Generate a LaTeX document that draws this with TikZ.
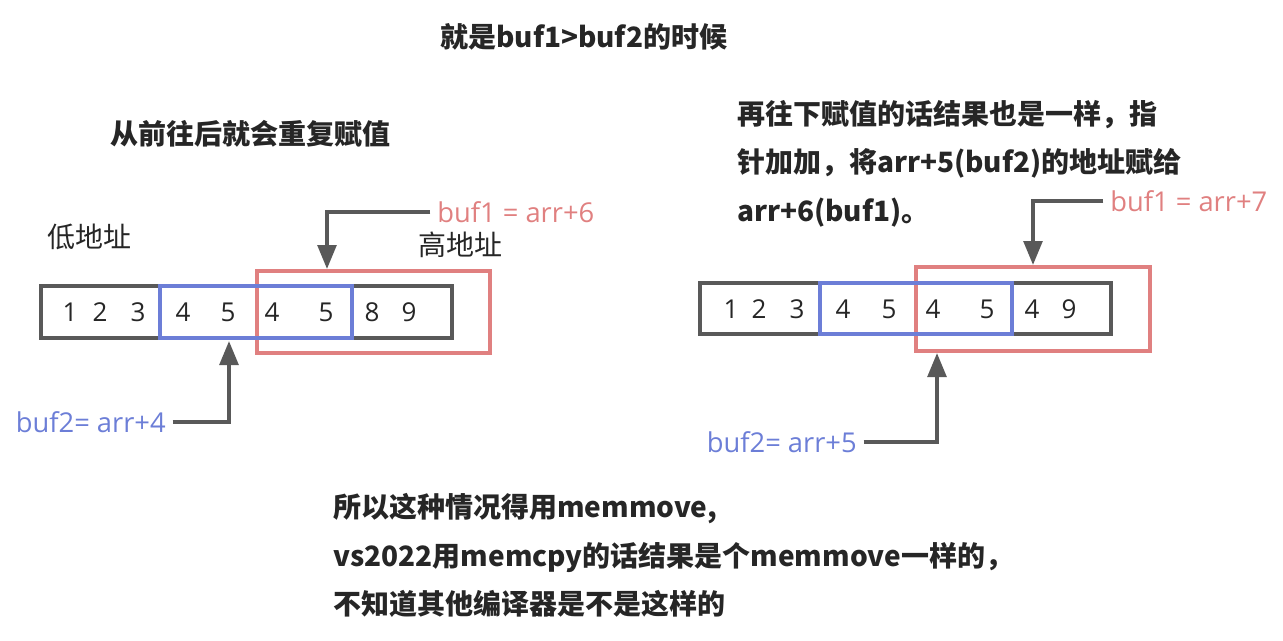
\documentclass[tikz,border=0pt]{standalone}
\usepackage{fontspec}
\setmainfont{Noto Sans CJK SC}
\newfontfamily\labelfont{Open Sans}
\usetikzlibrary{arrows.meta}
\definecolor{boxgray}{HTML}{595959}
\definecolor{bufblue}{HTML}{6C7ED7}
\definecolor{bufred}{HTML}{E08080}
\definecolor{txtdark}{HTML}{262626}
\tikzset{
  cell/.style={line width=2.8pt},
  ptr/.style={draw=boxgray, line width=2.8pt, -{Triangle[length=18pt,width=14pt]}},
  digit/.style={inner sep=0, text=txtdark, font=\labelfont\fontsize{19.5}{22}\selectfont},
  tag/.style={inner sep=0, font=\labelfont\fontsize{20.5}{22}\selectfont},
  note/.style={inner sep=0, text=txtdark, align=left, font=\bfseries\fontsize{21}{36.4}\selectfont},
  addr/.style={inner sep=0, text=txtdark, font=\fontsize{21}{24}\selectfont}
}
\begin{document}
\begin{tikzpicture}[x=0.75pt, y=-0.75pt]
  \useasboundingbox (0,0) rectangle (1283,640);
  % Coordinates
  \coordinate (tipLdown) at (327,269);
  \coordinate (tipLup) at (229,341);
  \coordinate (tipRdown) at (1033,265);
  \coordinate (tipRup) at (937,353);

  % Titles
  \node[note, anchor=west] (title) at (440,37) {就是buf1>buf2的时候};
  \node[note, anchor=west] (leftnote) at (110,134) {从前往后就会重复赋值};
  \node[note, anchor=west] (rightnote) at (737,163.5)
    {再往下赋值的话结果也是一样，指\\针加加，将arr+5(buf2)的地址赋给\\arr+6(buf1)。};
  \node[note, anchor=west] (endnote) at (333,555.5)
    {所以这种情况得用memmove,\\vs2022用memcpy的话结果是个memmove一样的，\\不知道其他编译器是不是这样的};

  % Left array
  \draw[cell, bufred] (257,271) rectangle (490,353);
  \draw[cell, boxgray] (41,286) rectangle (452,338);
  \draw[cell, bufblue] (160,286) rectangle (352,338);
  \foreach \x/\d [count=\i] in {70/1,100/2,138/3,183/4,228/5,272/4,326/5,372/8,409/9}
    \node[digit] (dl\i) at (\x,312) {\d};
  \node[addr, anchor=west] (lowL) at (47,237) {低地址};
  \node[addr, anchor=west] (highL) at (418,245) {高地址};
  \node[tag, text=bufred, anchor=west] (buf1L) at (437,212) {buf1 = arr+6};
  \node[tag, text=bufblue, anchor=east] (buf2L) at (166,422) {buf2= arr+4};
  \draw[ptr] ([xshift=-5pt]buf1L.west) -| (tipLdown);
  \draw[ptr] ([xshift=5pt]buf2L.east) -| (tipLup);

  % Right array
  \draw[cell, bufred] (916,267) rectangle (1150,351);
  \draw[cell, boxgray] (700,283) rectangle (1111,334);
  \draw[cell, bufblue] (820,283) rectangle (1012,334);
  \foreach \x/\d [count=\i] in {731/1,759/2,797/3,843/4,889/5,933/4,987/5,1032/4,1069/9}
    \node[digit] (dr\i) at (\x,309) {\d};
  \node[tag, text=bufred, anchor=west] (buf1R) at (1110,201) {buf1 = arr+7};
  \node[tag, text=bufblue, anchor=east] (buf2R) at (857,442) {buf2= arr+5};
  \draw[ptr] ([xshift=-5pt]buf1R.west) -| (tipRdown);
  \draw[ptr] ([xshift=5pt]buf2R.east) -| (tipRup);
\end{tikzpicture}
\end{document}
